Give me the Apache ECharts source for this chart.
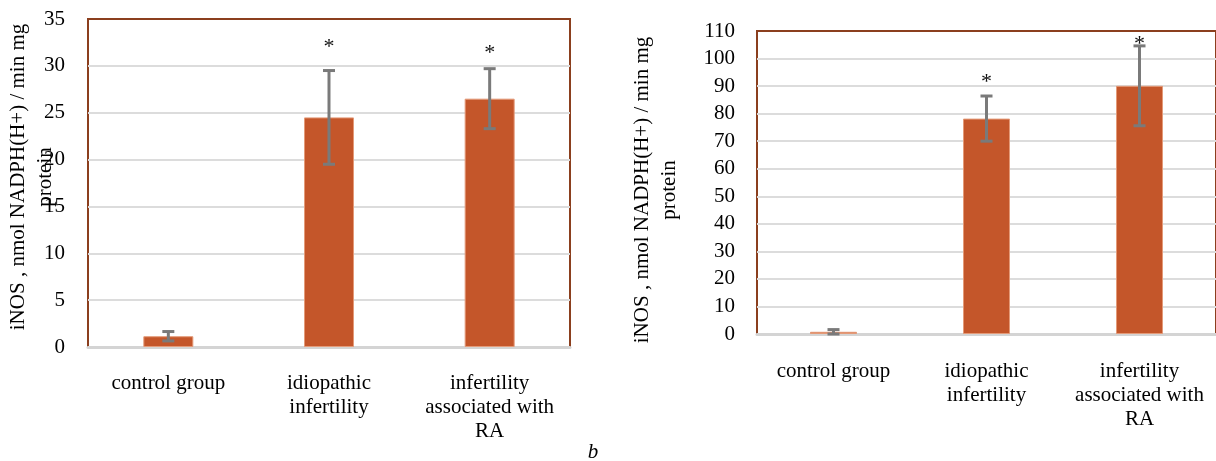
<!DOCTYPE html>
<html>
<head>
<meta charset="utf-8">
<script src="https://cdn.jsdelivr.net/npm/echarts@6/dist/echarts.min.js"></script>
<style>
html,body{margin:0;padding:0;background:#fff;}
#chart{width:1216px;height:461px;}
</style>
</head>
<body>
<div id="chart"></div>
<script>
const categories = ['control group', 'idiopathic\ninfertility', 'infertility\nassociated with\nRA'];
const leftValues = [1.15, 24.5, 26.5];
const leftErrors = [0.5, 5.0, 3.2];
const leftStars = [null, 32.4, 31.8];
const rightValues = [0.8, 78.2, 90.1];
const rightErrors = [0.8, 8.2, 14.5];
const rightStars = [null, 93, 106.5];
const leftTicks = {min: 0, max: 35, interval: 5};
const rightTicks = {min: 0, max: 110, interval: 10};
const yTitle = 'iNOS , nmol NADPH(H+) / min mg';
const yTitle2 = 'protein';
const panelLabel = 'b';

const FONT = '"Liberation Serif", "Times New Roman", serif';
const BAR = '#C4562A';
const BROWN = '#8B3F1E';
const ERR = '#7A7A7A';

function errData(vals, errs) {
  return vals.map((v, i) => [i, v - errs[i], v + errs[i]]);
}
function starData(stars) {
  return stars.map((s, i) => s == null ? null : [i, s]).filter(d => d);
}
function errorSeries(idx, vals, errs) {
  return {
    type: 'custom', xAxisIndex: idx, yAxisIndex: idx, z: 10,
    data: errData(vals, errs),
    renderItem: function (params, api) {
      const x = api.value(0);
      const lo = api.coord([x, api.value(1)]);
      const hi = api.coord([x, api.value(2)]);
      const hw = 6;
      const style = {stroke: ERR, lineWidth: 3};
      return {type: 'group', children: [
        {type: 'line', shape: {x1: lo[0], y1: lo[1], x2: hi[0], y2: hi[1]}, style: style},
        {type: 'line', shape: {x1: lo[0] - hw, y1: lo[1], x2: lo[0] + hw, y2: lo[1]}, style: style},
        {type: 'line', shape: {x1: hi[0] - hw, y1: hi[1], x2: hi[0] + hw, y2: hi[1]}, style: style}
      ]};
    }
  };
}
function starSeries(idx, stars) {
  return {
    type: 'custom', xAxisIndex: idx, yAxisIndex: idx, z: 11,
    data: starData(stars),
    renderItem: function (params, api) {
      const p = api.coord([api.value(0), api.value(1)]);
      return {type: 'text', x: p[0], y: p[1] + 4, style: {
        text: '*', fill: '#111', font: '22px ' + FONT, align: 'center', verticalAlign: 'middle'
      }};
    }
  };
}
function xAxis(idx, margin) {
  return {
    type: 'category', gridIndex: idx, data: categories,
    axisLine: {show: true, lineStyle: {color: '#D4D4D4', width: 3}},
    axisTick: {show: false},
    axisLabel: {color: '#000', fontFamily: FONT, fontSize: 21, lineHeight: 24, margin: margin, interval: 0}
  };
}
function yAxis(idx, t, margin) {
  return {
    type: 'value', gridIndex: idx, min: t.min, max: t.max, interval: t.interval,
    axisLine: {show: false}, axisTick: {show: false},
    splitLine: {show: true, showMaxLine: false, showMinLine: false, lineStyle: {color: '#DCDCDC', width: 2}},
    axisLabel: {color: '#000', fontFamily: FONT, fontSize: 21, margin: margin}
  };
}
function barSeries(idx, vals, w) {
  return {
    type: 'bar', xAxisIndex: idx, yAxisIndex: idx, data: vals, barWidth: w,
    itemStyle: {color: BAR, borderColor: '#E49A78', borderWidth: 1}
  };
}
function yLabel(x, y) {
  return {type: 'text', x: x, y: y, rotation: Math.PI / 2, style: {
    text: yTitle + '\n' + yTitle2, fill: '#000', font: '21px ' + FONT,
    align: 'center', verticalAlign: 'middle', lineHeight: 27
  }};
}

const chart = echarts.init(document.getElementById('chart'));
chart.setOption({
  animation: false,
  grid: [
    {left: 88, top: 19, width: 482, height: 328, show: true, borderColor: BROWN, borderWidth: 2, backgroundColor: 'transparent'},
    {left: 757, top: 31, width: 463, height: 303, show: true, borderColor: BROWN, borderWidth: 2, backgroundColor: 'transparent'}
  ],
  xAxis: [xAxis(0, 24), xAxis(1, 25)],
  yAxis: [yAxis(0, leftTicks, 23), yAxis(1, rightTicks, 22)],
  series: [
    barSeries(0, leftValues, 50),
    errorSeries(0, leftValues, leftErrors),
    starSeries(0, leftStars),
    barSeries(1, rightValues, 47),
    errorSeries(1, rightValues, rightErrors),
    starSeries(1, rightStars)
  ],
  graphic: [
    yLabel(32, 177),
    yLabel(656, 190),
    {type: 'text', x: 593, y: 452, style: {text: panelLabel, fill: '#000', font: 'italic 21px ' + FONT, align: 'center', verticalAlign: 'middle'}}
  ]
});
</script>
</body>
</html>
